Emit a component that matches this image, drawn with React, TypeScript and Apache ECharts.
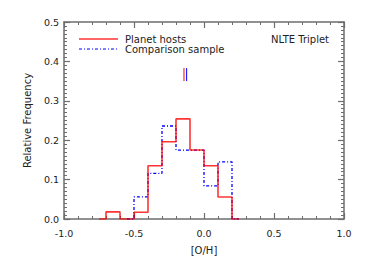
import React, { useEffect, useRef } from "react";
import * as echarts from "echarts";

// Bin centres (bin width 0.1) and relative frequencies
const hostCenters = [-0.75, -0.65, -0.55, -0.45, -0.35, -0.25, -0.15, -0.05, 0.05, 0.15, 0.25];
const hostValues = [0, 0.018, 0, 0.017, 0.135, 0.196, 0.254, 0.175, 0.135, 0.056, 0];
const compCenters = [-0.55, -0.45, -0.35, -0.25, -0.15, -0.05, 0.05, 0.15, 0.25];
const compValues = [0, 0.056, 0.116, 0.236, 0.175, 0.175, 0.084, 0.145, 0];
const hostMean = -0.143;
const compMean = -0.124;
const meanMarkRange = [0.35, 0.383];
const xTicks = [-1.0, -0.5, 0.0, 0.5, 1.0];
const yTicks = [0.0, 0.1, 0.2, 0.3, 0.4, 0.5];

const FONT = "DejaVu Sans, Verdana, sans-serif";
const AXIS = "#6e6e6e";

export default function App() {
  const ref = useRef<HTMLDivElement>(null);
  useEffect(() => {
    document.body.style.margin = "0";
    const chart = echarts.init(ref.current!, null, { renderer: "svg" });
    const axisCommon = {
      axisLine: { show: true, onZero: false, lineStyle: { color: AXIS, width: 1.5 } },
      axisTick: { show: true, inside: true, length: 6, lineStyle: { color: AXIS, width: 1.2 } },
      minorTick: { show: true, length: 3, lineStyle: { color: AXIS, width: 1 } },
      splitLine: { show: false },
    };
    const red = "#ff0000";
    const blue = "#0000ff";
    chart.setOption({
      animation: false,
      grid: { left: 64, top: 22, right: 21, bottom: 42 },
      xAxis: [
        {
          type: "value",
          min: xTicks[0],
          max: xTicks[xTicks.length - 1],
          interval: 0.5,
          position: "bottom",
          name: "[O/H]",
          nameLocation: "middle",
          nameGap: 26,
          nameTextStyle: { fontFamily: FONT, fontSize: 10, color: "#222" },
          axisLabel: {
            fontFamily: FONT,
            fontSize: 9.5,
            color: "#222",
            margin: 9,
            formatter: (v: number) => v.toFixed(1),
          },
          ...axisCommon,
          minorTick: { ...axisCommon.minorTick, splitNumber: 5 },
        },
        {
          type: "value",
          min: xTicks[0],
          max: xTicks[xTicks.length - 1],
          interval: 0.5,
          position: "top",
          axisLabel: { show: false },
          ...axisCommon,
          minorTick: { ...axisCommon.minorTick, splitNumber: 5 },
        },
      ],
      yAxis: [
        {
          type: "value",
          min: yTicks[0],
          max: yTicks[yTicks.length - 1],
          interval: 0.1,
          position: "left",
          name: "Relative Frequency",
          nameLocation: "middle",
          nameGap: 32,
          nameTextStyle: { fontFamily: FONT, fontSize: 10, color: "#222" },
          axisLabel: {
            fontFamily: FONT,
            fontSize: 9.5,
            color: "#222",
            margin: 5,
            formatter: (v: number) => v.toFixed(1),
          },
          ...axisCommon,
          minorTick: { ...axisCommon.minorTick, splitNumber: 10 },
        },
        {
          type: "value",
          min: yTicks[0],
          max: yTicks[yTicks.length - 1],
          interval: 0.1,
          position: "right",
          axisLabel: { show: false },
          ...axisCommon,
          minorTick: { ...axisCommon.minorTick, splitNumber: 10 },
        },
      ],
      series: [
        {
          type: "line",
          name: "Comparison sample",
          step: "middle",
          showSymbol: false,
          symbol: "none",
          data: compCenters.map((c, i) => [c, compValues[i]]),
          lineStyle: { color: blue, width: 1.3, type: [3, 2, 1, 2] },
          z: 2,
        },
        {
          type: "line",
          name: "Planet hosts",
          step: "middle",
          showSymbol: false,
          symbol: "none",
          data: hostCenters.map((c, i) => [c, hostValues[i]]),
          lineStyle: { color: red, width: 1.6, opacity: 0.8 },
          z: 3,
        },
        {
          type: "line",
          symbol: "none",
          data: meanMarkRange.map((y) => [hostMean, y]),
          lineStyle: { color: red, width: 1 },
        },
        {
          type: "line",
          symbol: "none",
          data: meanMarkRange.map((y) => [compMean, y]),
          lineStyle: { color: blue, width: 1 },
        },
      ],
      graphic: [
        {
          type: "line",
          shape: { x1: 79, y1: 39, x2: 118, y2: 39 },
          style: { stroke: red, lineWidth: 1.6, opacity: 0.8 },
        },
        {
          type: "text",
          x: 125,
          y: 39,
          style: { text: "Planet hosts", fontFamily: FONT, fontSize: 10, fill: "#222", verticalAlign: "middle" },
        },
        {
          type: "line",
          shape: { x1: 79, y1: 49, x2: 118, y2: 49 },
          style: { stroke: blue, lineWidth: 1.2, lineDash: [3, 2, 1, 2] },
        },
        {
          type: "text",
          x: 125,
          y: 49,
          style: { text: "Comparison sample", fontFamily: FONT, fontSize: 10, fill: "#222", verticalAlign: "middle" },
        },
        {
          type: "text",
          x: 329,
          y: 39,
          style: { text: "NLTE Triplet", fontFamily: FONT, fontSize: 10, fill: "#222", align: "right", verticalAlign: "middle" },
        },
      ],
    });
    return () => chart.dispose();
  }, []);
  return <div ref={ref} style={{ width: 365, height: 261 }} />;
}
